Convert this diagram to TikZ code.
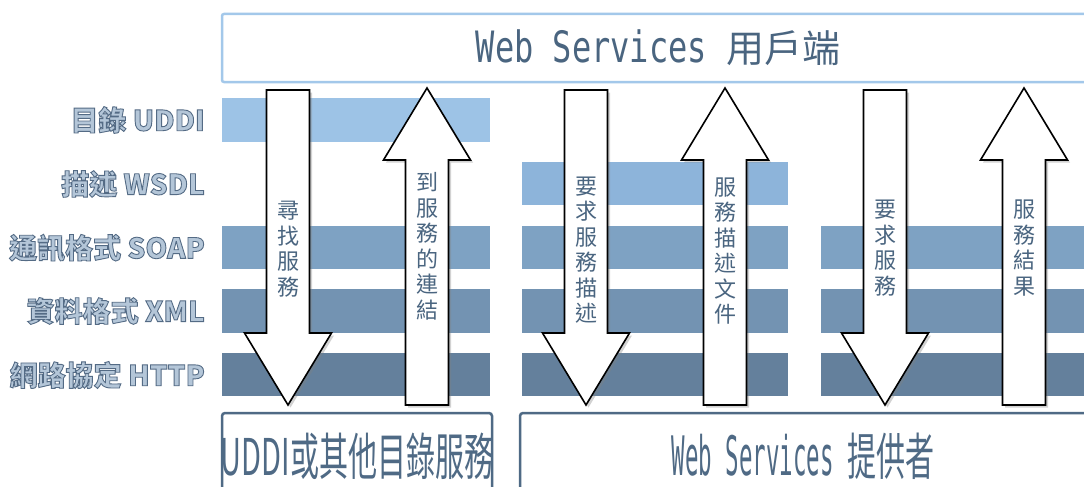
\documentclass[tikz,border=0pt]{standalone}
\usepackage{fontspec}
\newfontfamily\cjk{Noto Sans CJK TC}
\newfontfamily\monof{DejaVu Sans Mono}
\usetikzlibrary{shadows}
\definecolor{bandA}{HTML}{9DC3E6}
\definecolor{bandB}{HTML}{8DB4DA}
\definecolor{bandC}{HTML}{7EA2C3}
\definecolor{bandD}{HTML}{7393B2}
\definecolor{bandE}{HTML}{64809C}
\definecolor{topline}{HTML}{A3C8EA}
\definecolor{botline}{HTML}{4F6A85}
\definecolor{txt}{HTML}{4A6580}
\definecolor{lblfill}{HTML}{B4C6D8}
\newcommand\outl[1]{\special{pdf:literal direct 0.33 0.42 0.52 RG 0.9 w 2 Tr}#1\special{pdf:literal direct 0 Tr}}
\newcommand\wsmono[2]{\scalebox{1}[#1]{\monof #2}}
\newcommand\downarr[1]{\draw[blockarrow] ({#1-21.5},90) -- ({#1+21.5},90) -- ({#1+21.5},333) -- ({#1+43.5},333) -- (#1,405) -- ({#1-43.5},333) -- ({#1-21.5},333) -- cycle;}
\newcommand\uparr[1]{\draw[blockarrow] ({#1-21.5},405) -- ({#1+21.5},405) -- ({#1+21.5},160) -- ({#1+43.5},160) -- (#1,88) -- ({#1-43.5},160) -- ({#1-21.5},160) -- cycle;}
\begin{document}
\begin{tikzpicture}[x=1pt,y=-1pt,
  band/.style={fill=#1, draw=none},
  blockarrow/.style={draw=black, line width=1.6pt, fill=white, line join=miter,
    drop shadow={opacity=0.35, shadow xshift=2.5pt, shadow yshift=-2.5pt, fill=gray}},
  vtext/.style={font=\cjk\fontsize{22}{25.5}\selectfont, text=txt, align=center, inner sep=0pt},
  lbl/.style={font=\cjk\bfseries\fontsize{28}{28}\selectfont, text=lblfill, anchor=east, inner sep=0pt},
  topbox/.style={draw=topline, line width=2.5pt, fill=white, rounded corners=2pt},
  botbox/.style={draw=botline, line width=2.5pt, fill=white, rounded corners=3pt},
  boxtext/.style={inner sep=0pt, text=#1}]
\useasboundingbox (0,0) rectangle (1084,487);
\fill[white] (0,0) rectangle (1084,487);
% boxes
\path[topbox] (222,14) rectangle (1094,82);
\path[botbox] (222,413) rectangle (492,500);
\path[botbox] (520,413) rectangle (1094,500);
\node[boxtext=txt] (client) at (658,48)
  {\fontsize{32}{32}\selectfont\wsmono{1.35}{Web Services }{\cjk\fontsize{38}{38}\selectfont 用戶端}};
\node[boxtext=botline] (uddi) at (357,456.5)
  {\scalebox{0.66}[1.15]{\cjk\fontsize{44}{44}\selectfont UDDI或其他目錄服務}};
\node[boxtext=botline] (provider) at (803,456.5)
  {\scalebox{0.66}[1]{\fontsize{34}{34}\selectfont\wsmono{1.6}{Web Services }\scalebox{1}[1.15]{\cjk\fontsize{44}{44}\selectfont 提供者}}};
% bands
\fill[band=bandA] (222,98) rectangle (490,142);
\fill[band=bandB] (522,162) rectangle (788,205);
\foreach \ya/\yb/\c in {226/269/bandC, 289/333/bandD, 353/396/bandE}{
  \fill[band=\c] (222,\ya) rectangle (490,\yb);
  \fill[band=\c] (522,\ya) rectangle (788,\yb);
  \fill[band=\c] (821,\ya) rectangle (1090,\yb);
}
% labels
\node[lbl] (l1) at (205,120) {\outl{目錄 UDDI}};
\node[lbl] (l2) at (205,184) {\outl{描述 WSDL}};
\node[lbl] (l3) at (205,248) {\outl{通訊格式 SOAP}};
\node[lbl] (l4) at (205,311) {\outl{資料格式 XML}};
\node[lbl] (l5) at (205,375) {\outl{網路協定 HTTP}};
% arrows
\downarr{288}
\uparr{427}
\downarr{586}
\uparr{725}
\downarr{885}
\uparr{1024}
% arrow texts
\node[vtext] (t1) at (288,249) {尋\\找\\服\\務};
\node[vtext] (t2) at (427,246.5) {到\\服\\務\\的\\連\\結};
\node[vtext] (t3) at (586,250) {要\\求\\服\\務\\描\\述};
\node[vtext] (t4) at (725,251) {服\\務\\描\\述\\文\\件};
\node[vtext] (t5) at (885,248) {要\\求\\服\\務};
\node[vtext] (t6) at (1024,248) {服\\務\\結\\果};
\end{tikzpicture}
\end{document}
